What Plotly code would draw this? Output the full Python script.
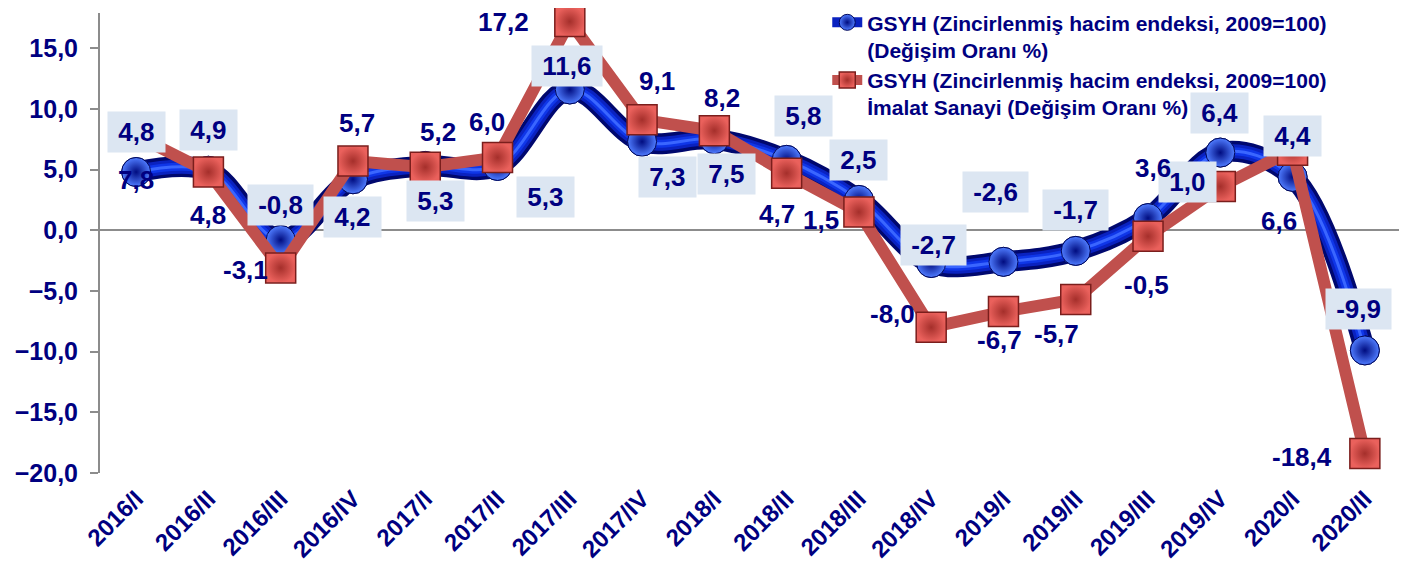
import plotly.graph_objects as go

# ---------------- data ----------------
categories = ["2016/I", "2016/II", "2016/III", "2016/IV", "2017/I", "2017/II", "2017/III",
              "2017/IV", "2018/I", "2018/II", "2018/III", "2018/IV", "2019/I", "2019/II",
              "2019/III", "2019/IV", "2020/I", "2020/II"]
gsyh = [4.8, 4.9, -0.8, 4.2, 5.3, 5.3, 11.6, 7.3, 7.5, 5.8, 2.5, -2.7, -2.6, -1.7, 1.0, 6.4, 4.4, -9.9]
imalat = [7.8, 4.8, -3.1, 5.7, 5.2, 6.0, 17.2, 9.1, 8.2, 4.7, 1.5, -8.0, -6.7, -5.7, -0.5, 3.6, 6.6, -18.4]

name_gsyh = "GSYH (Zincirlenmiş hacim endeksi, 2009=100)<br>(Değişim Oranı %)"
name_imalat = "GSYH (Zincirlenmiş hacim endeksi, 2009=100)<br>İmalat Sanayi (Değişim Oranı %)"

# label offsets in pixels (dx right, dy down) -- layout only
blue_off = [(0, -40), (0, -41), (0, -35), (0, 38), (10, 35), (48, 31), (-3, -23), (25, 35),
            (12, 35), (17, -44), (0, -40), (2, -18), (-8, -70), (0, -41), (39, -36), (-1, -40),
            (0, -41), (-6, -41)]
red_off = [(0, 44), (0, 43), (-35, 2), (4, -38), (13, -35), (-11, -35), (-66, 0), (15, -39),
           (8, -33), (-10, 41), (-38, 8), (-39, -13), (-4, 28), (-19, 35), (-2, 49), (-67, -19),
           (-14, 71), (-63, 3)]

NAVY = "#000080"
FONT = "Liberation Sans, Arial, sans-serif"
YMIN, YMAX = -20, 17.9


def fmt(v):
    return f"{v:.1f}".replace(".", ",")


spline = dict(shape="spline", smoothing=1)
blue_marker = dict(symbol="circle", size=29, color="#4F7CFF",
                   gradient=dict(type="radial", color="#000C80"),
                   line=dict(color="#00075A", width=1))

fig = go.Figure()

# blue ribbon (layered for a tube look)
fig.add_trace(go.Scatter(x=categories, y=gsyh, mode="lines", line=dict(color="#00086E", width=21, **spline),
                         showlegend=False, hoverinfo="skip", cliponaxis=False))
fig.add_trace(go.Scatter(x=categories, y=gsyh, mode="lines+markers", name=name_gsyh,
                         line=dict(color="#0A22C0", width=14, **spline), marker=blue_marker, cliponaxis=False))
fig.add_trace(go.Scatter(x=categories, y=gsyh, mode="lines", line=dict(color="#0F36E8", width=8, **spline),
                         showlegend=False, hoverinfo="skip", cliponaxis=False))
fig.add_trace(go.Scatter(x=categories, y=gsyh, mode="lines", line=dict(color="#3A66FF", width=3, **spline),
                         showlegend=False, hoverinfo="skip", cliponaxis=False))
fig.add_trace(go.Scatter(x=categories, y=gsyh, mode="markers", showlegend=False, hoverinfo="skip",
                         marker=blue_marker, cliponaxis=False))

# red series
fig.add_trace(go.Scatter(x=categories, y=imalat, mode="lines+markers", name=name_imalat,
                         line=dict(color="#C0504D", width=12), cliponaxis=False,
                         marker=dict(symbol="square", size=30, color="#EA615C",
                                     gradient=dict(type="radial", color="#A52F2B"),
                                     line=dict(color="#7A1E1C", width=1.5))))

annotations = []
for c, v, (dx, dy) in zip(categories, gsyh, blue_off):
    annotations.append(dict(x=c, y=v, xref="x", yref="y", text="\u2009" + fmt(v) + "\u2009",
                            showarrow=False, xshift=dx, yshift=-dy, xanchor="center", yanchor="middle",
                            bgcolor="#DCE6F2", borderpad=5,
                            font=dict(family=FONT, size=26, color=NAVY, weight="bold")))
for c, v, (dx, dy) in zip(categories, imalat, red_off):
    annotations.append(dict(x=c, y=v, xref="x", yref="y", text=fmt(v),
                            showarrow=False, xshift=dx, yshift=-dy, xanchor="center", yanchor="middle",
                            font=dict(family=FONT, size=26, color=NAVY, weight="bold")))

fig.update_layout(
    width=1399, height=560,
    margin=dict(l=92, r=6, t=5, b=95, autoexpand=False),
    paper_bgcolor="white", plot_bgcolor="white",
    separators=",.",
    font=dict(family=FONT, color=NAVY),
    annotations=annotations,
    showlegend=True,
    legend=dict(x=0.559, y=1.0235, xanchor="left", yanchor="top", bgcolor="rgba(0,0,0,0)",
                valign="top", tracegroupgap=0, itemsizing="trace",
                font=dict(family=FONT, size=21, color=NAVY, weight="bold")),
    xaxis=dict(type="category", range=[-0.5, 17.5], showline=False, ticks="", showgrid=False,
               zeroline=False, tickangle=-45, automargin=False, ticklabelstandoff=6,
               tickfont=dict(family=FONT, size=24, color=NAVY, weight="bold")),
    xaxis2=dict(overlaying="x", anchor="free", position=(0 - YMIN) / (YMAX - YMIN),
                range=[-0.5, 17.5], tickmode="linear", tick0=-0.5, dtick=1, ticks="outside",
                ticklen=7, tickwidth=2, tickcolor="#8C8C8C", showticklabels=False, automargin=False,
                showline=False, showgrid=False, zeroline=False),
    yaxis=dict(range=[YMIN, YMAX], tickmode="array", tickvals=[-20, -15, -10, -5, 0, 5, 10, 15],
               tickformat=".1f", ticks="outside", ticklen=8, tickwidth=2, tickcolor="#8C8C8C",
               showline=True, linecolor="#8C8C8C", linewidth=2, showgrid=False, automargin=False,
               zeroline=True, zerolinecolor="#8C8C8C", zerolinewidth=2, ticklabelstandoff=7,
               tickfont=dict(family=FONT, size=25, color=NAVY, weight="bold")),
)

fig.write_html("out.html")
